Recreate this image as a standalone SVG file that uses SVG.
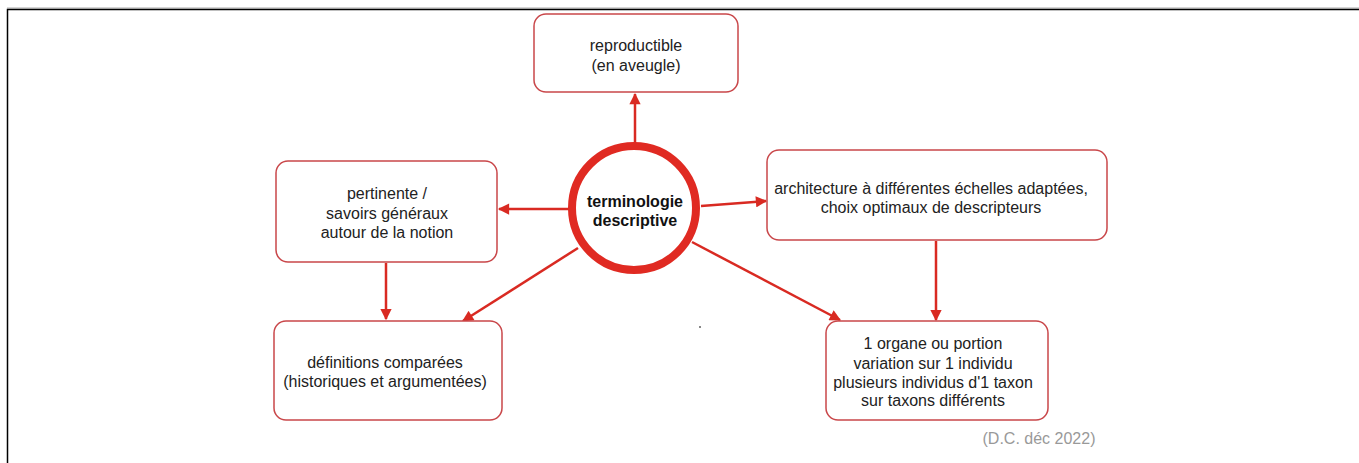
<svg xmlns="http://www.w3.org/2000/svg" width="1359" height="463" viewBox="0 0 1359 463">
<style>
.box{fill:#fff;stroke:#c9474a;stroke-width:1.5}
.t{font-family:"Liberation Sans",Arial,sans-serif;font-size:16px;fill:#222;text-anchor:middle}
.b{font-weight:bold;font-size:16px;fill:#111}
.c{stroke:#d92a22;stroke-width:2.5;fill:none}
</style>
<defs>
<marker id="ah" viewBox="0 0 10 10" refX="9" refY="5" markerWidth="5" markerHeight="4.5" orient="auto" markerUnits="strokeWidth">
<path d="M0,0 L10,5 L0,10 z" fill="#d92a22"/>
</marker>
</defs>
<rect width="1359" height="463" fill="#fff"/>
<line x1="7" y1="8" x2="1359" y2="8" stroke="#aaa" stroke-width="1"/>
<path d="M7.5,463 V9.5 H1359" fill="none" stroke="#000" stroke-width="1.5"/>
<g id="connectors">
<line class="c" x1="635" y1="144" x2="635" y2="94" marker-end="url(#ah)"/>
<line class="c" x1="569" y1="209" x2="499" y2="209" marker-end="url(#ah)"/>
<line class="c" x1="701" y1="206" x2="766" y2="201" marker-end="url(#ah)"/>
<line class="c" x1="578" y1="248" x2="463" y2="321" marker-end="url(#ah)"/>
<line class="c" x1="692" y1="242" x2="840" y2="320" marker-end="url(#ah)"/>
<line class="c" x1="386" y1="263" x2="386" y2="319" marker-end="url(#ah)"/>
<line class="c" x1="936" y1="241" x2="936" y2="320" marker-end="url(#ah)"/>
</g>
<g id="n-center">
<circle cx="634" cy="208" r="62" fill="#fff" stroke="#e02a22" stroke-width="8"/>
<text class="t b" x="635" y="207">terminologie</text>
<text class="t b" x="635" y="226">descriptive</text>
</g>
<g id="n-top">
<rect class="box" x="534" y="14" width="204" height="78" rx="12"/>
<text class="t" x="636" y="51">reproductible</text>
<text class="t" x="636" y="71">(en aveugle)</text>
</g>
<g id="n-left">
<rect class="box" x="276" y="161" width="221" height="101" rx="12"/>
<text class="t" x="387" y="199">pertinente /</text>
<text class="t" x="387" y="219">savoirs généraux</text>
<text class="t" x="387" y="238">autour de la notion</text>
</g>
<g id="n-right">
<rect class="box" x="767" y="150" width="340" height="90" rx="12"/>
<text class="t" x="931" y="194">architecture à différentes échelles adaptées,</text>
<text class="t" x="931" y="213">choix optimaux de descripteurs</text>
</g>
<g id="n-botleft">
<rect class="box" x="274" y="321" width="228" height="99" rx="12"/>
<text class="t" x="385" y="368">définitions comparées</text>
<text class="t" x="385" y="387">(historiques et argumentées)</text>
</g>
<g id="n-botright">
<rect class="box" x="826" y="321" width="222" height="99" rx="12"/>
<text class="t" x="933" y="349">1 organe ou portion</text>
<text class="t" x="933" y="369">variation sur 1 individu</text>
<text class="t" x="933" y="388">plusieurs individus d'1 taxon</text>
<text class="t" x="933" y="406">sur taxons différents</text>
</g>
<text class="t" x="1039" y="444" style="fill:#999">(D.C. déc 2022)</text>
<rect x="699" y="326" width="2" height="2" fill="#888"/>
</svg>
